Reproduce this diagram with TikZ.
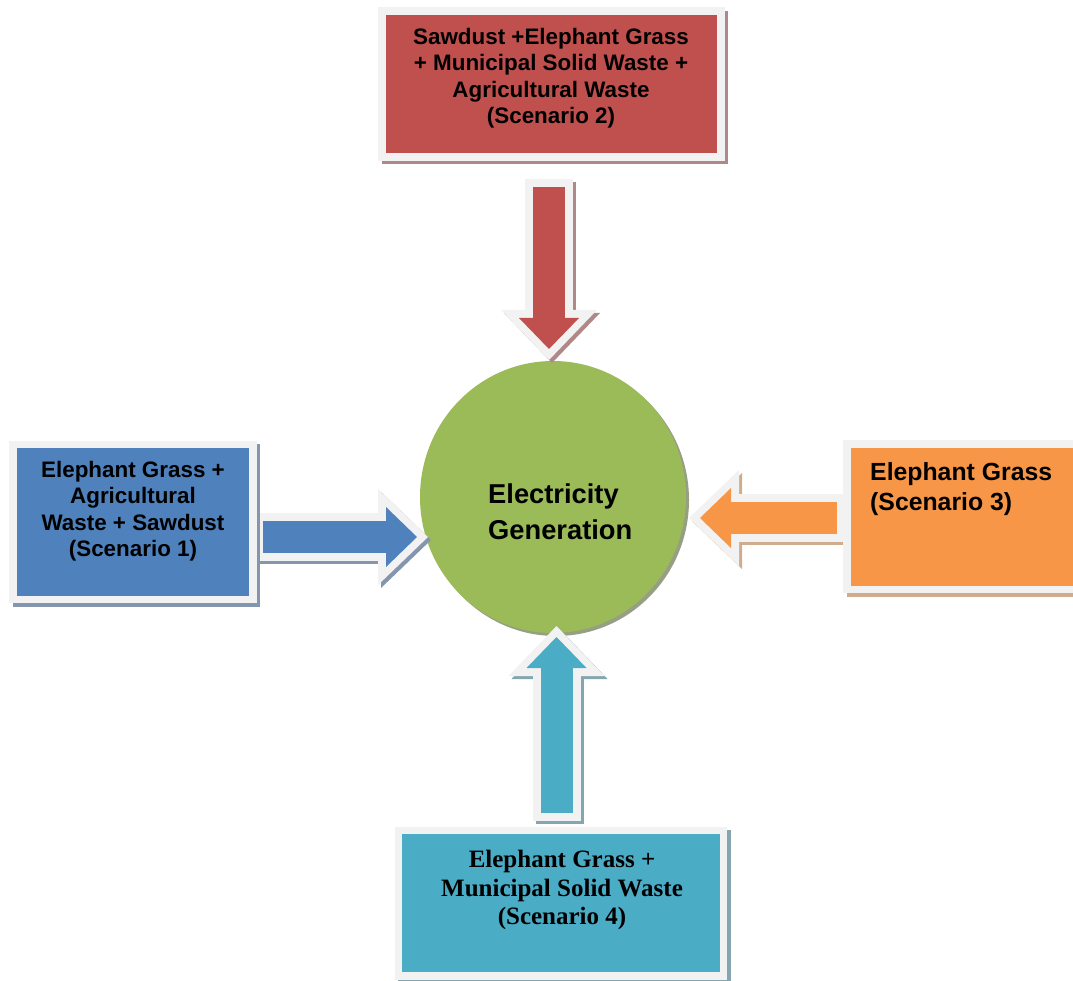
\documentclass[tikz,border=0pt]{standalone}
\usepackage{fontspec}
\setmainfont{Liberation Sans}
\newfontfamily\timesfont{Liberation Serif}
\usetikzlibrary{arrows.meta,shapes.geometric}
\definecolor{rim}{HTML}{F2F2F2}
\definecolor{redfill}{HTML}{C0504D}
\definecolor{bluefill}{HTML}{4F81BD}
\definecolor{orangefill}{HTML}{F79646}
\definecolor{cyanfill}{HTML}{4BACC6}
\definecolor{greenfill}{HTML}{9BBB59}
\definecolor{redshade}{RGB}{176,136,136}
\definecolor{blueshade}{RGB}{132,150,174}
\definecolor{orangeshade}{RGB}{208,172,142}
\definecolor{cyanshade}{RGB}{132,166,176}
\definecolor{greenshade}{RGB}{150,158,132}

\begin{document}
\begin{tikzpicture}[x=1pt,y=-1pt,line join=miter,
	scenbox/.style 2 args={rectangle,draw=rim,fill=#1,line width=7.5pt,inner sep=0pt,
		preaction={draw=#2,fill=#2,transform canvas={xshift=3.5pt,yshift=-3.5pt}}},
	scentext/.style={inner sep=0pt,align=center,font=\fontsize{22.4}{26.5}\selectfont\bfseries},
	arrowrim/.style={draw=#1,line width=48pt,-{Triangle[length=50pt,width=96pt,line width=0pt]}},
	arrowshade/.style={arrowrim=#1,transform canvas={xshift=3pt,yshift=-3pt}},
	arrowbody/.style={draw=#1,line width=32pt,shorten <=8pt,shorten >=11pt,
		-{Triangle[length=31pt,width=60pt,line width=0pt]}}]
	\useasboundingbox (0,0) rectangle (1073,981);
	\clip (0,0) rectangle (1073,981);
	% centre
	\node[ellipse,fill=greenfill,minimum width=266,minimum height=272,inner sep=0pt,
		preaction={fill=greenshade,transform canvas={xshift=3pt,yshift=-3pt}}] (gen) at (553,497) {};
	\node[scentext,align=left,anchor=north west,font=\fontsize{27.3}{36}\selectfont\bfseries] (gentxt) at (488,484) {Electricity\\Generation};
	% arrows
	\coordinate (tail1) at (255,537);   \coordinate (tip1) at (428,537);
	\coordinate (tail2) at (549,179);   \coordinate (tip2) at (549,360);
	\coordinate (tail3) at (845,518);   \coordinate (tip3) at (689,518);
	\coordinate (tail4) at (556.5,821); \coordinate (tip4) at (556.5,626);
	\draw[arrowshade=blueshade] (tail1) -- (tip1);
	\draw[arrowrim=rim] (tail1) -- (tip1);
	\draw[arrowbody=bluefill] (tail1) -- (tip1);
	\draw[arrowshade=redshade] (tail2) -- (tip2);
	\draw[arrowrim=rim] (tail2) -- (tip2);
	\draw[arrowbody=redfill] (tail2) -- (tip2);
	\draw[arrowshade=orangeshade] (tail3) -- (tip3);
	\draw[arrowrim=rim] (tail3) -- (tip3);
	\draw[arrowbody=orangefill] (tail3) -- (tip3);
	\draw[arrowshade=cyanshade] (tail4) -- (tip4);
	\draw[arrowrim=rim] (tail4) -- (tip4);
	\draw[arrowbody=cyanfill] (tail4) -- (tip4);
	% scenarios
	\node[scenbox={bluefill}{blueshade},minimum width=240,minimum height=155] (scen1) at (133,522) {};
	\node[scenbox={redfill}{redshade},minimum width=339,minimum height=146] (scen2) at (551.5,84) {};
	\node[scenbox={orangefill}{orangeshade},minimum width=253,minimum height=145.5] (scen3) at (973.5,516.75) {};
	\node[scenbox={cyanfill}{cyanshade},minimum width=325,minimum height=145.5] (scen4) at (561,903) {};
	\node[scentext] (txt1) at (133,511) {Elephant Grass +\\Agricultural\\Waste + Sawdust\\(Scenario 1)};
	\node[scentext] (txt2) at (551,78) {Sawdust +Elephant Grass\\+ Municipal Solid Waste +\\Agricultural Waste\\(Scenario 2)};
	\node[scentext,align=left,anchor=north west,font=\fontsize{24.8}{30}\selectfont\bfseries] (txt3) at (870,462) {Elephant Grass\\(Scenario 3)};
	\node[scentext,font=\timesfont\fontsize{25}{28.5}\selectfont\bfseries] (txt4) at (562,890) {Elephant Grass +\\Municipal Solid Waste\\(Scenario 4)};
\end{tikzpicture}
\end{document}
